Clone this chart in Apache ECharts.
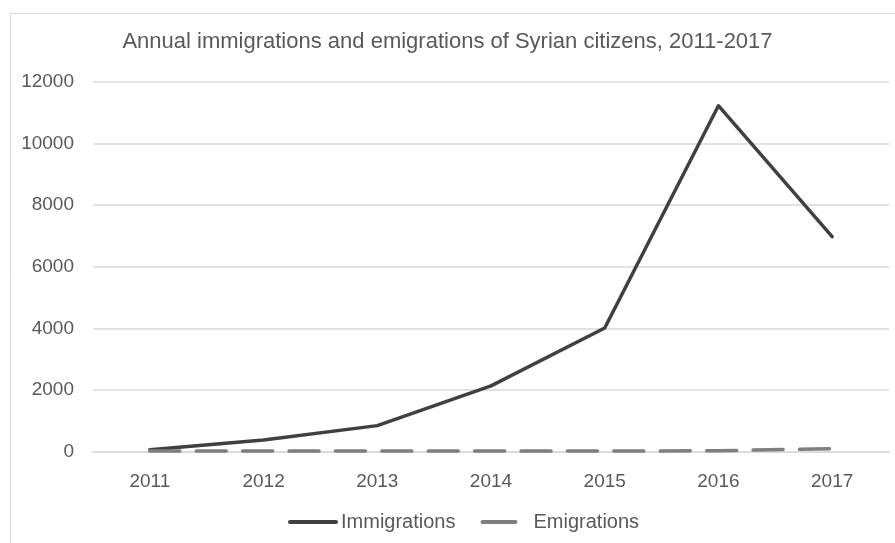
<!DOCTYPE html>
<html><head><meta charset="utf-8">
<script src="https://cdn.jsdelivr.net/npm/echarts@6/dist/echarts.min.js"></script>
<style>html,body{margin:0;padding:0;background:#fff}#c{width:895px;height:543px}</style>
</head><body><div id="c"></div>
<script>
const titleText = 'Annual immigrations and emigrations of Syrian citizens, 2011-2017';
const years = ['2011','2012','2013','2014','2015','2016','2017'];
const immigrations = [60, 375, 840, 2130, 4010, 11230, 6980];
const emigrations = [15, 15, 15, 15, 15, 25, 90];
const yTicks = [0, 2000, 4000, 6000, 8000, 10000, 12000];

const FONT = 'Liberation Sans';
const chart = echarts.init(document.getElementById('c'), null, {renderer:'canvas'});
chart.setOption({
  animation:false,
  backgroundColor:'#fff',
  textStyle:{fontFamily:FONT},
  graphic:[{type:'rect', shape:{x:10.5,y:13.5,width:900,height:540}, style:{fill:'none', stroke:'#d9d9d9', lineWidth:1}, silent:true}],
  title:{text:titleText, left:'center', top:26, textStyle:{fontFamily:FONT, fontSize:22, fontWeight:'normal', color:'#595959'}},
  legend:{top:507, left:283, itemWidth:46, itemHeight:14, itemGap:25,
    itemStyle:{opacity:0},
    lineStyle:{width:4},
    textStyle:{fontFamily:FONT, fontSize:20, color:'#595959'},
    data:[{name:'Immigrations'},{name:'Emigrations', lineStyle:{type:[33,20], width:4}}]},
  grid:{left:93, right:6, top:82, bottom:91.5, containLabel:false},
  xAxis:{type:'category', data:years, boundaryGap:true,
    axisLine:{show:true, lineStyle:{color:'#d9d9d9', width:1.5}},
    axisTick:{show:false},
    axisLabel:{fontFamily:FONT, fontSize:19, color:'#595959', margin:21}},
  yAxis:{type:'value', min:yTicks[0], max:yTicks[yTicks.length-1], interval:2000,
    axisLine:{show:false}, axisTick:{show:false},
    splitLine:{lineStyle:{color:'#d9d9d9', width:1.5}},
    axisLabel:{fontFamily:FONT, fontSize:19, color:'#595959', margin:19, formatter:v=>String(v)}},
  series:[
    {name:'Immigrations', type:'line', data:immigrations, symbol:'none', color:'#404040',
      lineStyle:{color:'#404040', width:3.5, cap:'round', join:'round'}},
    {name:'Emigrations', type:'line', data:emigrations, symbol:'none', color:'#7f7f7f',
      lineStyle:{color:'#7f7f7f', width:3.5, type:[30,16.4], cap:'round'}}
  ]
});
</script></body></html>
